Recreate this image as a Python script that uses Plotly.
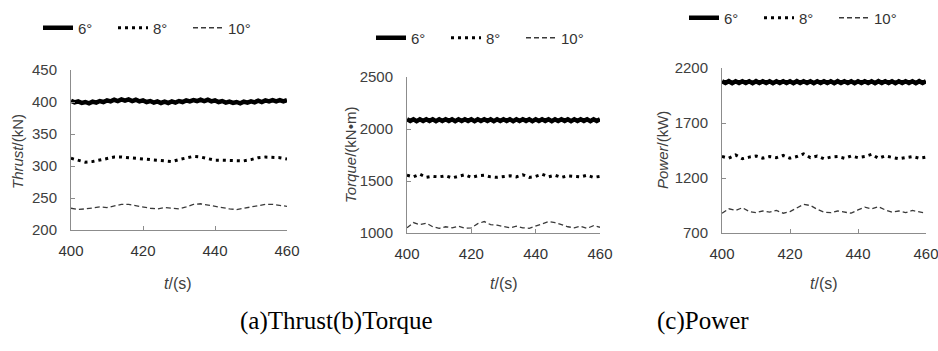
import plotly.graph_objects as go

# ---------------- data ----------------
t_fine = list(range(400, 461, 1))     # 1 s step
t_coarse = list(range(400, 461, 2))   # 2 s step

thrust_6 = [402,399.5,401,398.5,400,398,400.5,399,401.5,400,
            402.5,401,403.5,401.5,404,402,404,401.5,403.5,401,
            402.5,400,401.5,399,401,398.5,400.5,398.5,401,399,
            401.5,400,402.5,401,403,401.5,403.5,401.5,403.5,401,
            402.5,400,401.5,399,400.5,398.5,400,398,400.5,399,
            401,399.5,402,400,402.5,401,403,401,403,401,
            403]
thrust_8 = [312,309,306,307,309,312,314,314,313,312,311,310,309,307,307,310,
            313,315,314,312,309,309,309,308,308,310,313,314,314,313,311]
thrust_10 = [234,232,233,235,236,235,237,240,240,238,235,234,233,235,234,233,
             236,240,241,239,236,235,233,232,234,236,238,240,240,239,237]

torque_6 = [2093,2077,2094,2076,2093,2077,2094,2078,2093,2076,
            2094,2077,2093,2078,2094,2076,2093,2077,2094,2078,
            2093,2076,2094,2077,2093,2078,2094,2076,2093,2077,
            2094,2078,2093,2076,2094,2077,2093,2078,2094,2076,
            2093,2077,2094,2078,2093,2076,2094,2077,2093,2078,
            2094,2076,2093,2077,2094,2078,2093,2076,2094,2077,
            2093]
torque_8 = [1555,1540,1565,1535,1545,1540,1550,1530,1545,1560,
            1535,1550,1555,1540,1535,1545,1550,1540,1560,1535,
            1545,1565,1540,1555,1535,1550,1545,1540,1555,1535,1545]
torque_10 = [1050,1100,1080,1095,1060,1045,1060,1050,1065,1045,
             1050,1090,1110,1080,1075,1060,1050,1065,1050,1045,
             1065,1090,1110,1100,1080,1060,1050,1065,1045,1070,1055]

power_6 = [2079,2063,2080,2062,2079,2063,2080,2064,2079,2062,
           2080,2063,2079,2064,2080,2062,2079,2063,2080,2064,
           2079,2062,2080,2063,2079,2064,2080,2062,2079,2063,
           2080,2064,2079,2062,2080,2063,2079,2064,2080,2062,
           2079,2063,2080,2064,2079,2062,2080,2063,2079,2064,
           2080,2062,2079,2063,2080,2064,2079,2062,2080,2063,
           2079]
power_8 = [1395,1380,1410,1375,1390,1400,1380,1395,1385,1405,
           1380,1395,1420,1385,1400,1375,1390,1395,1380,1400,
           1385,1395,1415,1380,1400,1390,1375,1385,1395,1380,1390]
power_10 = [880,920,905,930,895,885,900,890,905,880,
            895,930,960,950,915,890,885,900,890,880,
            910,935,920,940,910,890,900,885,905,890,880]

series_names = ["6°", "8°", "10°"]
y_titles = ["<i>Thrust</i>/(kN)", "<i>Torque</i>/(kN•m)", "<i>Power</i>/(kW)"]
x_tick_vals = [400, 420, 440, 460]
y_ticks = [[200, 250, 300, 350, 400, 450],
           [1000, 1500, 2000, 2500],
           [700, 1200, 1700, 2200]]
captions = ["(a)Thrust(b)Torque", "(c)Power"]

panels = [
    (thrust_6, thrust_8, thrust_10),
    (torque_6, torque_8, torque_10),
    (power_6, power_8, power_10),
]

W, H = 938, 351
def px(x): return x / W
def py(y): return 1 - y / H

# layout geometry (pixels)
geo = [
    dict(x0=71, x1=287, y0=230, y1=70, yr=[200, 450], ytx=18, yty=152, leg=(38, 28), xt=178),
    dict(x0=407, x1=600, y0=233, y1=77, yr=[1000, 2500], ytx=350, yty=155, leg=(371, 38), xt=504),
    dict(x0=722, x1=926, y0=233, y1=68, yr=[700, 2200], ytx=662, yty=150, leg=(684, 18), xt=824),
]

fig = go.Figure()
legends = ["legend", "legend2", "legend3"]
styles = [
    dict(color="black", width=4.5),
    dict(color="black", width=3, dash="3px,4px"),
    dict(color="#3a3a3a", width=1.3, dash="5px,3px"),
]

for i, (s6, s8, s10) in enumerate(panels):
    xa = "x" if i == 0 else f"x{i+1}"
    ya = "y" if i == 0 else f"y{i+1}"
    for name, xs, ys, st in zip(series_names, [t_fine, t_coarse, t_coarse], [s6, s8, s10], styles):
        fig.add_trace(go.Scatter(x=xs, y=ys, mode="lines", name=name, line=st,
                                 xaxis=xa, yaxis=ya, legend=legends[i]))

axis_common = dict(showline=True, linecolor="#8c8c8c", linewidth=1, showgrid=False,
                   zeroline=False, ticks="inside", ticklen=4, tickcolor="#8c8c8c",
                   automargin=False, ticklabeloverflow="allow")

layout = dict(template="none", width=W, height=H, margin=dict(l=0, r=0, t=0, b=0, pad=0),
              paper_bgcolor="white", plot_bgcolor="white", showlegend=True)

annotations = []
for i, g in enumerate(geo):
    k = "" if i == 0 else str(i + 1)
    layout[f"xaxis{k}"] = dict(domain=[px(g["x0"]), px(g["x1"])], range=[400, 460],
                               tickvals=x_tick_vals, anchor=f"y{k}",
                               tickfont=dict(family="Liberation Sans", size=15, color="#333333"),
                               ticklabelstandoff=7, **axis_common)
    layout[f"yaxis{k}"] = dict(domain=[py(g["y0"]), py(g["y1"])], range=g["yr"],
                               tickvals=y_ticks[i], anchor=f"x{k}",
                               tickfont=dict(family="Liberation Sans", size=15, color="#404040"),
                               ticklabelstandoff=10, **axis_common)
    lg = "legend" if i == 0 else f"legend{i+1}"
    layout[lg] = dict(orientation="h", x=px(g["leg"][0]), y=py(g["leg"][1]),
                      xanchor="left", yanchor="middle", bgcolor="rgba(0,0,0,0)",
                      font=dict(family="Liberation Sans", size=15, color="#333333"),
                      itemwidth=30, entrywidth=30, tracegroupgap=0)
    annotations.append(dict(text=y_titles[i], x=px(g["ytx"]), y=py(g["yty"]), xref="paper", yref="paper",
                            textangle=-90, showarrow=False, xanchor="center", yanchor="middle",
                            font=dict(family="Liberation Sans", size=15, color="#404040")))
    annotations.append(dict(text="<i>t</i>/(s)", x=px(g["xt"]), y=py(283), xref="paper", yref="paper",
                            showarrow=False, xanchor="center", yanchor="middle",
                            font=dict(family="Liberation Sans", size=16, color="#404040")))

annotations.append(dict(text=captions[0], x=px(336), y=py(321), xref="paper", yref="paper",
                        showarrow=False, xanchor="center", yanchor="middle",
                        font=dict(family="Liberation Serif", size=25, color="black")))
annotations.append(dict(text=captions[1], x=px(703), y=py(321), xref="paper", yref="paper",
                        showarrow=False, xanchor="center", yanchor="middle",
                        font=dict(family="Liberation Serif", size=25, color="black")))
layout["annotations"] = annotations

fig.update_layout(**layout)
fig.write_html("out.html", config={"displayModeBar": False},
               post_script="document.body.style.margin='0';document.body.style.padding='0';")
